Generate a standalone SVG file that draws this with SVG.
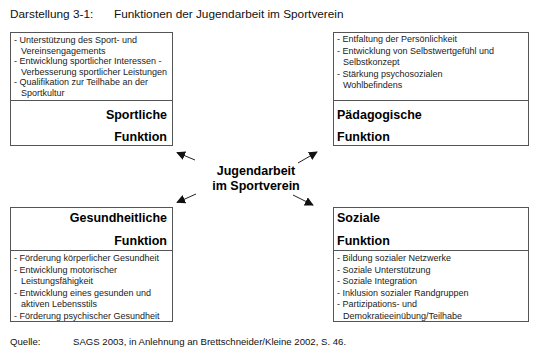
<svg xmlns="http://www.w3.org/2000/svg" width="550" height="356" viewBox="0 0 550 356">
<style>
.t{font-family:"Liberation Sans",Arial,sans-serif;fill:#111}
.it{font-family:"Liberation Sans",Arial,sans-serif;font-size:9px;fill:#222}
.h{font-family:"Liberation Sans",Arial,sans-serif;font-size:12.5px;font-weight:bold;fill:#000}
.box{fill:#fff;stroke:#555;stroke-width:1}
.div{stroke:#555;stroke-width:1}
.arr{stroke:#222;stroke-width:1;fill:none;marker-end:url(#ah)}
</style>
<defs>
<marker id="ah" viewBox="0 0 10 10" refX="9" refY="5" markerWidth="9" markerHeight="9" markerUnits="userSpaceOnUse" orient="auto">
<path d="M0,0 L10,5 L0,10 z" fill="#111"/>
</marker>
</defs>
<rect width="550" height="356" fill="#fff"/>
<g id="title">
<text class="t" x="10" y="18" font-size="11.8">Darstellung 3-1:</text>
<text class="t" x="114" y="18" font-size="11.8">Funktionen der Jugendarbeit im Sportverein</text>
</g>
<g id="sportliche">
<rect class="box" x="10.5" y="32.5" width="162" height="113"/>
<line class="div" x1="10.5" y1="100.5" x2="172.5" y2="100.5"/>
<text class="it" x="14" y="43">- Unterstützung des Sport- und</text>
<text class="it" x="21" y="53.5">Vereinsengagements</text>
<text class="it" x="14" y="64">- Entwicklung sportlicher Interessen -</text>
<text class="it" x="21" y="74.5">Verbesserung sportlicher Leistungen</text>
<text class="it" x="14" y="85">- Qualifikation zur Teilhabe an der</text>
<text class="it" x="21" y="95.5">Sportkultur</text>
<text class="h" x="167" y="119" text-anchor="end">Sportliche</text>
<text class="h" x="167" y="141" text-anchor="end">Funktion</text>
</g>
<g id="paedagogische">
<rect class="box" x="333.5" y="32.5" width="195" height="113"/>
<line class="div" x1="333.5" y1="100.5" x2="528.5" y2="100.5"/>
<text class="it" x="337" y="42">- Entfaltung der Persönlichkeit</text>
<text class="it" x="337" y="53.5">- Entwicklung von Selbstwertgefühl und</text>
<text class="it" x="343" y="65">Selbstkonzept</text>
<text class="it" x="337" y="76.5">- Stärkung psychosozialen</text>
<text class="it" x="343" y="88">Wohlbefindens</text>
<text class="h" x="337" y="119">Pädagogische</text>
<text class="h" x="337" y="141">Funktion</text>
</g>
<g id="center">
<text class="h" x="256" y="175" text-anchor="middle" font-size="13">Jugendarbeit</text>
<text class="h" x="256" y="190" text-anchor="middle" font-size="13">im Sportverein</text>
</g>
<g id="gesundheitliche">
<rect class="box" x="10.5" y="207.5" width="162" height="114"/>
<line class="div" x1="10.5" y1="250.5" x2="172.5" y2="250.5"/>
<text class="h" x="167" y="222" text-anchor="end">Gesundheitliche</text>
<text class="h" x="167" y="245" text-anchor="end">Funktion</text>
<text class="it" x="14" y="261">- Förderung körperlicher Gesundheit</text>
<text class="it" x="14" y="272.5">- Entwicklung motorischer</text>
<text class="it" x="21" y="284">Leistungsfähigkeit</text>
<text class="it" x="14" y="295.5">- Entwicklung eines gesunden und</text>
<text class="it" x="21" y="307">aktiven Lebensstils</text>
<text class="it" x="14" y="318.5">- Förderung psychischer Gesundheit</text>
</g>
<g id="soziale">
<rect class="box" x="333.5" y="207.5" width="195" height="114"/>
<line class="div" x1="333.5" y1="250.5" x2="528.5" y2="250.5"/>
<text class="h" x="337" y="222">Soziale</text>
<text class="h" x="337" y="245">Funktion</text>
<text class="it" x="337" y="261">- Bildung sozialer Netzwerke</text>
<text class="it" x="337" y="272.5">- Soziale Unterstützung</text>
<text class="it" x="337" y="284">- Soziale Integration</text>
<text class="it" x="337" y="295.5">- Inklusion sozialer Randgruppen</text>
<text class="it" x="337" y="307">- Partizipations- und</text>
<text class="it" x="343" y="318.5">Demokratieeinübung/Teilhabe</text>
</g>
<g id="connectors">
<line class="arr" x1="195" y1="160" x2="177" y2="152.5"/>
<line class="arr" x1="298" y1="163" x2="317" y2="152"/>
<line class="arr" x1="196" y1="194" x2="177" y2="202.5"/>
<line class="arr" x1="293" y1="195" x2="313" y2="205"/>
</g>
<g id="source">
<text class="t" x="10" y="345" font-size="9.6">Quelle:</text>
<text class="t" x="73" y="345" font-size="9.6">SAGS 2003, in Anlehnung an Brettschneider/Kleine 2002, S. 46.</text>
</g>
</svg>
